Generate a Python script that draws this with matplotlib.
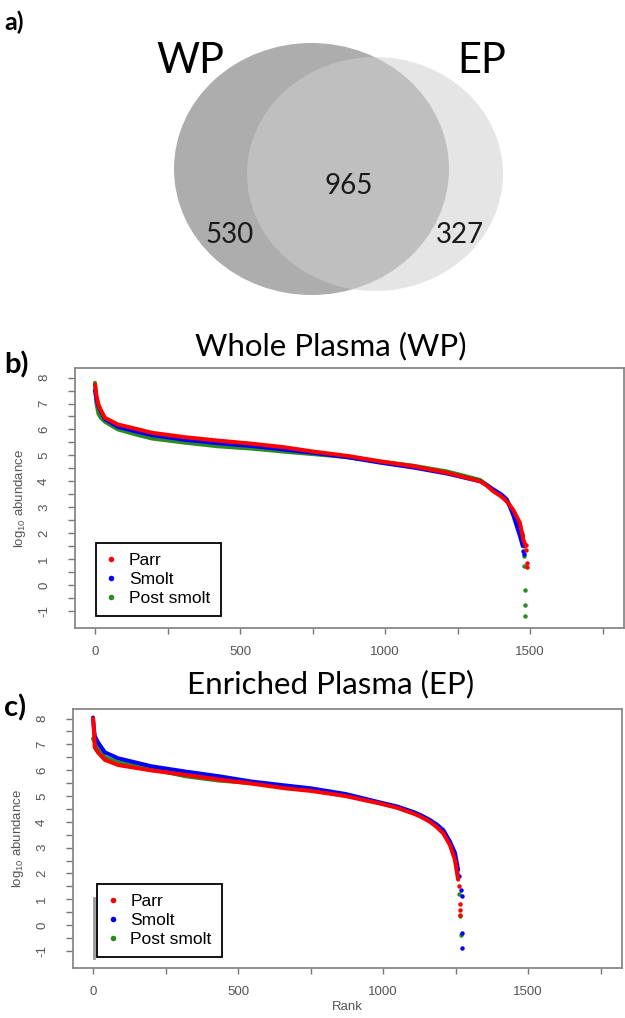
import matplotlib
matplotlib.use('Agg')
import matplotlib.pyplot as plt
from matplotlib.patches import Ellipse
from matplotlib.lines import Line2D

plt.rcParams['font.family'] = ['Liberation Sans', 'DejaVu Sans']
plt.rcParams['mathtext.fontset'] = 'custom'
plt.rcParams['mathtext.rm'] = 'Liberation Sans'

# venn counts: WP only, shared, EP only
venn_sets = ['WP', 'EP']
venn_counts = [530, 965, 327]

groups = ['Parr', 'Smolt', 'Post smolt']
colors = ['#ff0000', '#0000ff', '#2a8c1e']

# whole plasma (WP) rank / log10 abundance
wp_parr_rank = [0, 5, 12, 20, 34, 79, 150, 197, 310, 424, 541, 655, 750, 870, 983, 1098, 1213, 1270, 1328, 1350, 1374, 1400, 1420, 1442, 1465, 1477, 1485]
wp_parr_val = [7.73, 7.3, 6.96, 6.75, 6.45, 6.19, 6.0, 5.87, 5.7, 5.57, 5.45, 5.31, 5.15, 4.98, 4.77, 4.58, 4.33, 4.17, 4.0, 3.84, 3.61, 3.42, 3.22, 2.9, 2.4, 1.75, 1.5]
wp_parr_tail_rank = [1486, 1487, 1489, 1490]
wp_parr_tail_val = [1.55, 1.35, 0.85, 0.7]

wp_smolt_rank = [0, 5, 12, 20, 34, 79, 150, 197, 310, 424, 541, 655, 750, 870, 983, 1098, 1213, 1270, 1328, 1350, 1374, 1400, 1420, 1442, 1465, 1475]
wp_smolt_val = [7.5, 7.15, 6.9, 6.7, 6.4, 6.1, 5.9, 5.78, 5.6, 5.47, 5.36, 5.22, 5.1, 4.93, 4.72, 4.53, 4.3, 4.15, 4.0, 3.86, 3.68, 3.5, 3.3, 2.7, 1.9, 1.5]
wp_smolt_tail_rank = [1477, 1478]
wp_smolt_tail_val = [1.3, 1.2]

wp_post_rank = [0, 5, 12, 20, 34, 79, 150, 197, 310, 424, 541, 655, 750, 870, 983, 1098, 1213, 1270, 1328, 1350, 1374, 1400, 1420, 1442, 1465, 1477]
wp_post_val = [7.8, 7.0, 6.6, 6.45, 6.3, 6.0, 5.78, 5.65, 5.49, 5.35, 5.26, 5.14, 5.05, 4.93, 4.76, 4.6, 4.38, 4.22, 4.05, 3.87, 3.65, 3.45, 3.25, 2.85, 2.2, 1.9]
wp_post_tail_rank = [1478, 1479, 1480, 1483, 1483, 1484]
wp_post_tail_val = [1.5, 1.1, 0.75, -0.21, -0.76, -1.2]

# enriched plasma (EP)
ep_rank = [0, 3, 6, 17, 41, 87, 202, 317, 432, 547, 662, 750, 870, 990, 1047, 1105, 1130, 1162, 1185, 1208, 1231, 1248, 1259]
ep_parr_val = [8.0, 7.65, 6.88, 6.69, 6.4, 6.2, 5.99, 5.82, 5.64, 5.48, 5.3, 5.2, 5.0, 4.71, 4.55, 4.32, 4.2, 4.0, 3.8, 3.55, 3.1, 2.53, 1.76]
ep_parr_tail_rank = [1262, 1265, 1265, 1266]
ep_parr_tail_val = [1.5, 0.8, 0.6, 0.4]

ep_smolt_val = [8.04, 7.6, 7.33, 7.08, 6.69, 6.46, 6.15, 5.95, 5.77, 5.56, 5.41, 5.3, 5.08, 4.75, 4.6, 4.38, 4.26, 4.07, 3.9, 3.68, 3.23, 2.8, 2.14]
ep_smolt_tail_rank = [1262, 1268, 1271, 1272, 1274]
ep_smolt_tail_val = [1.9, 1.37, 1.12, -0.29, -0.9]

ep_post_val = [7.22, 7.15, 7.08, 6.83, 6.5, 6.3, 6.05, 5.77, 5.6, 5.5, 5.35, 5.25, 5.03, 4.72, 4.57, 4.35, 4.22, 4.03, 3.83, 3.6, 3.15, 2.6, 1.9]
ep_post_tail_rank = [1262, 1266, 1268]
ep_post_tail_val = [1.2, 0.35, -0.4]

W, H = 625, 1018
fig = plt.figure(figsize=(W / 100, H / 100), dpi=100)

# background axes in pixel coords for venn + panel text
bg = fig.add_axes([0, 0, 1, 1])
bg.set_xlim(0, W)
bg.set_ylim(H, 0)
bg.axis('off')

bg.add_patch(Ellipse((311.5, 169), 275, 252, color='#adadad', lw=0))
bg.add_patch(Ellipse((375, 174), 256, 234, color='#d0d0d0', alpha=0.54, lw=0))
bg.text(190, 73, venn_sets[0], fontsize=30, family='Lato', ha='center', va='baseline')
bg.text(482, 73, venn_sets[1], fontsize=30, family='Lato', ha='center', va='baseline')
bg.text(229.5, 243, str(venn_counts[0]), fontsize=20, family='Lato', ha='center', va='baseline', color='#1a1a1a')
bg.text(349, 194, str(venn_counts[1]), fontsize=20, family='Lato', ha='center', va='baseline', color='#1a1a1a')
bg.text(459.5, 243, str(venn_counts[2]), fontsize=20, family='Lato', ha='center', va='baseline', color='#1a1a1a')

bg.text(4, 30, 'a)', fontsize=18, family='Lato', weight='bold', ha='left', va='baseline')
bg.text(4, 373, 'b)', fontsize=21, family='Lato', weight='bold', ha='left', va='baseline')
bg.text(4, 716, 'c)', fontsize=21, family='Lato', weight='bold', ha='left', va='baseline')
bg.text(331, 355, 'Whole Plasma (WP)', fontsize=22.5, family='Lato', ha='center', va='baseline')
bg.text(331, 693, 'Enriched Plasma (EP)', fontsize=22.5, family='Lato', ha='center', va='baseline')


def rank_panel(rect, series, legend_xy, xlabel=None):
    ax = fig.add_axes(rect)
    for (r, v, tr, tv), c in reversed(list(zip(series, colors))):
        ax.plot(r, v, color=c, lw=2.9, solid_capstyle='round', solid_joinstyle='round')
        ax.plot(tr, tv, 'o', color=c, ms=3.2, mec='none')
    ax.set_xlim(-69, 1824)
    ax.set_ylim(-1.66, 8.37)
    ax.set_xticks([0, 250, 500, 750, 1000, 1250, 1500, 1750])
    ax.set_xticklabels(['0', '', '500', '', '1000', '', '1500', ''])
    yt = [i / 2 for i in range(-2, 17)]
    ax.set_yticks(yt)
    ax.set_yticklabels([str(int(t)) if t == int(t) else '' for t in yt])
    ax.tick_params(axis='x', length=4, width=1, color='#777777', labelcolor='#555555', labelsize=9.5, pad=9)
    ax.tick_params(axis='y', length=5, width=1, color='#777777', labelcolor='#555555', labelsize=9.5,
                   labelrotation=90, pad=13)
    for lab in ax.get_yticklabels():
        lab.set_va('center')
    for s in ax.spines.values():
        s.set_color('#888888')
        s.set_linewidth(1.3)
    ax.set_ylabel(r'log$_{\mathrm{10}}$ abundance', fontsize=9.5, color='#555555', labelpad=7)
    if xlabel:
        ax.set_xlabel(xlabel, fontsize=9.5, color='#555555', labelpad=2)
    handles = [Line2D([], [], marker='o', ls='none', color=c, ms=4, mec='none') for c in colors]
    leg = ax.legend(handles, groups, loc='lower left', bbox_to_anchor=legend_xy, fontsize=12.5,
                    fancybox=False, framealpha=1, edgecolor='black', borderpad=0.6,
                    labelspacing=0.2, handlelength=0.6, handletextpad=0.7, borderaxespad=0)
    leg.get_frame().set_linewidth(1.3)
    return ax


wp_series = [
    (wp_parr_rank, wp_parr_val, wp_parr_tail_rank, wp_parr_tail_val),
    (wp_smolt_rank, wp_smolt_val, wp_smolt_tail_rank, wp_smolt_tail_val),
    (wp_post_rank, wp_post_val, wp_post_tail_rank, wp_post_tail_val),
]
ep_series = [
    (ep_rank, ep_parr_val, ep_parr_tail_rank, ep_parr_tail_val),
    (ep_rank, ep_smolt_val, ep_smolt_tail_rank, ep_smolt_tail_val),
    (ep_rank, ep_post_val, ep_post_tail_rank, ep_post_tail_val),
]

rank_panel([75 / W, (H - 628) / H, 549 / W, 260 / H], wp_series, (0.038, 0.046))
rank_panel([73 / W, (H - 968) / H, 549 / W, 259 / H], ep_series, (0.044, 0.042), xlabel='Rank')

# grey artefact bar left of the EP legend
fig.add_artist(Line2D([93.5, 93.5], [898, 958], color='#9a9a9a', lw=2, transform=bg.transData, zorder=10))

fig.savefig('out.png', dpi=100)
